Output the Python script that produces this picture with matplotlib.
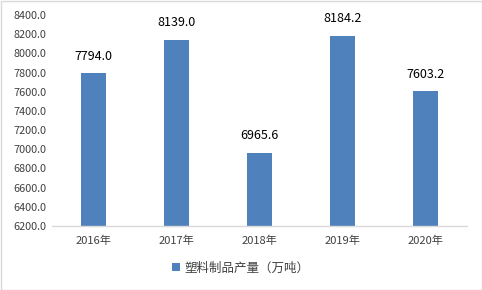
import matplotlib
matplotlib.use("Agg")
import matplotlib.pyplot as plt
from matplotlib.patches import Rectangle

plt.rcParams['font.family'] = ['Noto Sans CJK SC', 'DejaVu Sans']

categories = ['2016年', '2017年', '2018年', '2019年', '2020年']
values = [7794.0, 8139.0, 6965.6, 8184.2, 7603.2]
series_name = '塑料制品产量（万吨）'
yticks = [6200 + 200 * i for i in range(12)]

fig = plt.figure(figsize=(4.82, 2.90), dpi=100)
ax = fig.add_axes([52/482, 1-226/290, 415/482, (226-15)/290])
x = list(range(len(categories)))
bars = ax.bar(x, values, width=0.31, color='#4F81BD', label=series_name, zorder=2)
for xi, v in zip(x, values):
    ax.text(xi, v + 110, f'{v:.1f}', ha='center', va='bottom', fontsize=9, color='#000000')

ax.set_ylim(6200, 8400)
ax.set_xlim(-0.5, 4.5)
ax.set_yticks(yticks)
ax.set_yticklabels([f'{t:.1f}' for t in yticks], fontsize=7.8, color='#404040')
ax.set_xticks(x)
ax.set_xticklabels(categories, fontsize=8, color='#404040')
ax.tick_params(axis='both', length=0, pad=4)
ax.tick_params(axis='x', pad=7)
for s in ['top', 'right', 'left']:
    ax.spines[s].set_visible(False)
ax.spines['bottom'].set_color('#D9D9D9')
ax.spines['bottom'].set_linewidth(1.0)

fig.legend(handles=[bars], labels=[series_name], loc='center', bbox_to_anchor=(0.5, 1-268/290),
           frameon=False, fontsize=9, handlelength=0.6, handleheight=0.6, handletextpad=0.4,
           labelcolor='#404040')

fig.patches.append(Rectangle((0.5/482, 0.5/290), 1-1/482, 1-1/290, transform=fig.transFigure,
                             fill=False, edgecolor='#D9D9D9', linewidth=1.0))
fig.savefig('out.png', dpi=100)
